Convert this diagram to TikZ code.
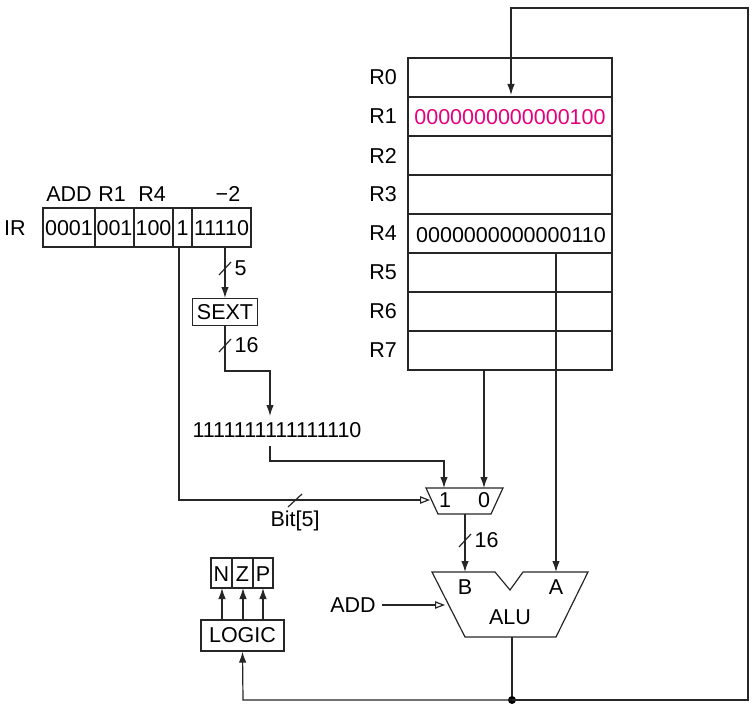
\documentclass[tikz,border=0pt]{standalone}
\usepackage{fontspec}
\setmainfont{Liberation Sans}
\usetikzlibrary{arrows.meta}
\definecolor{mag}{RGB}{230,0,126}
\begin{document}
\begin{tikzpicture}[x=1pt,y=-1pt,line width=1.2pt,
  every node/.style={font=\fontsize{21.5}{23}\selectfont,inner sep=0pt},
  wire/.style={draw=black!85},
  arr/.style={wire,-{Latex[length=11pt,width=7.5pt]}},
  ctl/.style={wire,-{Triangle[open,length=10pt,width=7.5pt]}},
  box/.style={draw=black!85}]
\useasboundingbox (0,0) rectangle (756,709);
% IR
\draw[box] (43,208) rectangle (251,247);
\foreach \x in {95,134,173,192} \draw[box] (\x,208) -- (\x,247);
\node (ir) at (15,228) {IR};
\node at (69,228) {0001};\node at (114.5,228) {001};\node at (153.5,228) {100};
\node at (182.5,228) {1};\node at (221.5,228) {11110};
\node at (69,194) {ADD};\node at (112,194) {R1};\node at (152,194) {R4};\node at (228,194) {−2};
\coordinate (f1) at (179,247); \coordinate (f5) at (225,247);
% SEXT
\node[box,minimum width=65pt,minimum height=27pt,anchor=north] (sext) at (225,298) {SEXT};
\draw[arr] (f5) -- (sext.north);
\draw[wire] (219,275) -- (231,262); \node[anchor=west] at (234,268) {5};
\coordinate (c1) at (225,371); \coordinate (c2) at (270,371);
\node (imm) at (277,430) {1111111111111110};
\draw[arr] (sext.south) -- (c1) -- (c2) -- (270,416);
\draw[wire] (219,352) -- (231,339); \node[anchor=west] at (234,345) {16};
% register file
\foreach \i/\y in {0/58,1/97,2/136,3/175,4/214,5/253,6/292,7/331}{
  \draw[box] (408,\y) rectangle (612,\y+39);
  \node at (383,\y+19.5) {R\i};}
\node[text=mag] (r1) at (510,117) {0000000000000100};
\node (r4) at (511,235) {0000000000000110};
% mux
\draw[box] (426,488) -- (503,488) -- (491,514) -- (438,514) -- cycle;
\node at (445,500) {1};\node at (484,500) {0};
\coordinate (mx) at (465,514);
\draw[arr] (270,446) -- (270,461) -- (444,461) -- (444,488);
\draw[arr] (484,371) -- (484,488);
\draw[ctl] (f1) -- (179,500) -- (430,500);
\draw[wire] (288,507) -- (302,494); \node at (295,521) {Bit[5]};
% ALU
\draw[box] (432,572) -- (495,572) -- (510,590) -- (523,572) -- (588,572) -- (556,637) -- (465,637) -- cycle;
\node at (465,587) {B};\node at (556,587) {A};\node at (510,617) {ALU};
\draw[arr] (mx) -- (465,572);
\draw[wire] (459,547) -- (471,534); \node[anchor=west] at (474,540) {16};
\draw[arr] (556,253) -- (556,572);
\node (add) at (353,605) {ADD};
\draw[ctl] (382,605) -- (445,605);
% LOGIC / NZP
\node[box,minimum width=83pt,minimum height=31pt] (logic) at (242.5,635.5) {LOGIC};
\draw[box] (211,558) rectangle (273,588);
\draw[box] (232,558) -- (232,588); \draw[box] (253,558) -- (253,588);
\node at (221.5,574) {N};\node at (242.5,574) {Z};\node at (263,574) {P};
\foreach \x in {222,243,263} \draw[arr] (\x,620) -- (\x,588);
% feedback
\coordinate (dot) at (512,700);
\draw[wire] (512,637) -- (dot);
\fill (dot) circle (4pt);
\draw[arr] (dot) -- (748,700) -- (748,8) -- (511,8) -- (511,95);
\draw[arr] (dot) -- (243,700) -- (logic.south);
\end{tikzpicture}
\end{document}
